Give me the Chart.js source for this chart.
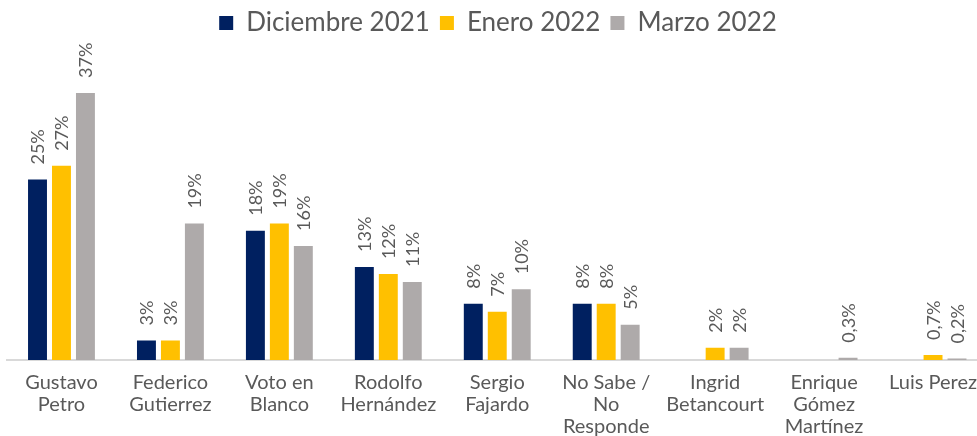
<!DOCTYPE html>
<html><head><meta charset="utf-8">
<script src="https://cdn.jsdelivr.net/npm/chart.js@4"></script>
<style>
html,body{margin:0;padding:0;background:#fff;overflow:hidden;}
#wrap{width:989px;height:450px;position:relative;}
</style></head>
<body><div id="wrap"><canvas id="c"></canvas></div>
<script>
const categories = [["Gustavo","Petro"],["Federico","Gutierrez"],["Voto en","Blanco"],["Rodolfo","Hernández"],["Sergio","Fajardo"],["No Sabe /","No","Responde"],["Ingrid","Betancourt"],["Enrique","Gómez","Martínez"],["Luis Perez"]];
const seriesNames = ["Diciembre 2021","Enero 2022","Marzo 2022"];
const dic2021 = [25.0, 2.7, 17.9, 12.9, 7.8, 7.8, null, null, null];
const ene2022 = [26.9, 2.7, 18.9, 11.9, 6.7, 7.8, 1.7, null, 0.7];
const mar2022 = [37.0, 18.9, 15.8, 10.8, 9.8, 4.9, 1.7, 0.3, 0.2];
const colors = ["#002060","#FFC000","#AEAAAA"];

function fmt(v){ return v >= 1 ? Math.round(v) + "%" : String(v).replace(".", ",") + "%"; }

const labelPlugin = {
  id: "barLabels",
  afterDatasetsDraw(chart){
    const ctx = chart.ctx;
    ctx.save();
    ctx.font = "18px Lato";
    ctx.fillStyle = "#595959";
    ctx.textAlign = "left";
    ctx.textBaseline = "middle";
    chart.data.datasets.forEach((ds, di) => {
      const meta = chart.getDatasetMeta(di);
      meta.data.forEach((el, i) => {
        const v = ds.data[i];
        if (v === null || v === undefined) return;
        ctx.save();
        ctx.translate(el.x + 1, el.y - 15);
        ctx.rotate(-Math.PI / 2);
        ctx.fillText(fmt(v), 0, 0);
        ctx.restore();
      });
    });
    ctx.restore();
  }
};

new Chart(document.getElementById("c"), {
  type: "bar",
  data: {
    labels: categories,
    datasets: [
      {label: seriesNames[0], data: dic2021, backgroundColor: colors[0]},
      {label: seriesNames[1], data: ene2022, backgroundColor: colors[1]},
      {label: seriesNames[2], data: mar2022, backgroundColor: colors[2]}
    ]
  },
  options: {
    responsive: true,
    maintainAspectRatio: false,
    animation: false,
    layout: {padding: {left: 7, right: 0, top: 0, bottom: 0}},
    datasets: {bar: {categoryPercentage: 0.66, barPercentage: 0.79}},
    plugins: {
      legend: {
        position: "top",
        labels: {font: {family: "Lato", size: 26}, color: "#595959", boxWidth: 14, boxHeight: 14, padding: 10}
      },
      tooltip: {enabled: false}
    },
    scales: {
      x: {
        grid: {display: false, drawTicks: false},
        border: {display: true, color: "#D9D9D9", width: 2},
        ticks: {font: {family: "Lato", size: 20, lineHeight: 1.1}, color: "#595959", padding: 12, maxRotation: 0, autoSkip: false}
      },
      y: {display: false, min: 0, max: 43.5}
    }
  },
  plugins: [labelPlugin]
});
</script></body></html>
